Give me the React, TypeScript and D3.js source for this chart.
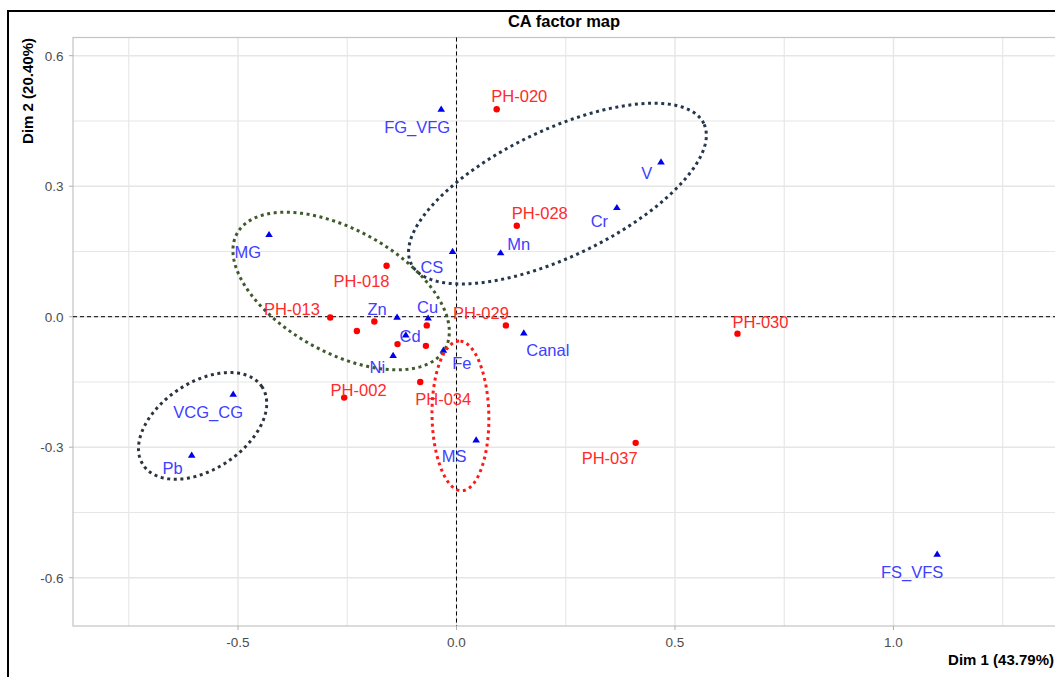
import React from "react";
import * as d3 from "d3";

// ---- Data ----
const rowNames: (string | null)[] = ["PH-020", "PH-028", "PH-018", "PH-013", null, null, null, null, null, "PH-029", "PH-034", "PH-002", "PH-030", "PH-037"];
const rowDim1 = [0.092, 0.138, -0.160, -0.289, -0.188, -0.228, -0.068, -0.135, -0.070, 0.113, -0.083, -0.257, 0.643, 0.410];
const rowDim2 = [0.477, 0.209, 0.117, -0.002, -0.011, -0.033, -0.020, -0.063, -0.067, -0.020, -0.150, -0.186, -0.039, -0.290];

const colNames = ["FG_VFG", "V", "Cr", "Mn", "CS", "MG", "Zn", "Cu", "Cd", "Ni", "Fe", "Canal", "MS", "VCG_CG", "Pb", "FS_VFS"];
const colDim1 = [-0.035, 0.468, 0.367, 0.101, -0.009, -0.429, -0.136, -0.065, -0.116, -0.145, -0.030, 0.154, 0.045, -0.511, -0.606, 1.100];
const colDim2 = [0.477, 0.356, 0.251, 0.147, 0.150, 0.189, -0.001, -0.003, -0.042, -0.089, -0.077, -0.037, -0.283, -0.178, -0.318, -0.546];

// ellipses (data units)
const ellipseCx = [0.231, -0.264, 0.009, -0.581];
const ellipseCy = [0.283, 0.059, -0.228, -0.251];
const ellipseA = [0.3716, 0.2725, 0.172, 0.163];
const ellipseB = [0.1454, 0.141, 0.065, 0.100];
const ellipseAngle = [25.7, -29.2, 91, 33.5];
const ellipseColor = ["#25374d", "#3f5a2b", "#ff1a1a", "#2b333d"];

const xMajor = [-0.5, 0, 0.5, 1.0];
const xMinor = [-0.75, -0.25, 0.25, 0.75, 1.25];
const yMajor = [-0.6, -0.3, 0, 0.3, 0.6];
const yMinor = [-0.45, -0.15, 0.15, 0.45];
const xTickLabels = ["-0.5", "0.0", "0.5", "1.0"];
const yTickLabels = ["-0.6", "-0.3", "0.0", "0.3", "0.6"];

// label offsets in pixels (layout, like ggrepel placement)
const rowLabelDx = [22.6, 23, -25, -38.3, 0, 0, 0, 0, 0, -25, 23, 14.4, 23, -26];
const rowLabelDy = [-13, -12.7, 15.7, -8.7, 0, 0, 0, 0, 0, -12.6, 16.7, -7.7, -12, 15.6];
const colLabelDx = [-24, -14.3, -17.5, 18, -20.7, -21.2, -20, -0.5, 4.3, -15.8, 18.4, 24, -22, -25, -19.2, -25];
const colLabelDy = [17.4, 11.6, 13.4, -8.7, 15.4, 17.4, -8.3, -11.3, 1, 11.4, 13.3, 17, 16, 17.7, 13.3, 17.7];

const W = 1055, H = 677;
const PL = 73, PR = 1055, PT = 37.5, PB = 626;
const FONT = "'Liberation Sans', Arial, sans-serif";

export default function App() {
  const x = d3.scaleLinear().domain([-0.8776, 1.3696]).range([PL, PR]);
  const y = d3.scaleLinear().domain([-0.711, 0.6418]).range([PB, PT]);

  const ellipsePath = (i: number) => {
    const th = (ellipseAngle[i] * Math.PI) / 180;
    const pts: [number, number][] = d3.range(0, 241).map((k) => {
      const t = (k / 240) * 2 * Math.PI;
      const ex = ellipseCx[i] + ellipseA[i] * Math.cos(t) * Math.cos(th) - ellipseB[i] * Math.sin(t) * Math.sin(th);
      const ey = ellipseCy[i] + ellipseA[i] * Math.cos(t) * Math.sin(th) + ellipseB[i] * Math.sin(t) * Math.cos(th);
      return [x(ex), y(ey)];
    });
    return d3.line()(pts) + "Z";
  };

  const tri = (px: number, py: number) =>
    `M${px},${py - 3.6}L${px + 3.8},${py + 2.6}L${px - 3.8},${py + 2.6}Z`;

  return (
    <svg width={W} height={H} style={{ position: "absolute", left: 0, top: 0, background: "#fff" }}>
      <rect x={0} y={0} width={W} height={H} fill="#fff" />
      {/* outer frame */}
      <rect x={8} y={11} width={1200} height={800} fill="none" stroke="#000" strokeWidth={2} />
      {/* title */}
      <text x={(PL + PR) / 2} y={26.5} textAnchor="middle" fontFamily={FONT} fontWeight="bold" fontSize={16.5} fill="#000">
        CA factor map
      </text>
      {/* grid */}
      <g stroke="#e6e6e6">
        {xMinor.map((v) => <line key={"xm" + v} x1={x(v)} x2={x(v)} y1={PT} y2={PB} strokeWidth={1.1} />)}
        {yMinor.map((v) => <line key={"ym" + v} y1={y(v)} y2={y(v)} x1={PL} x2={PR} strokeWidth={1.1} />)}
        {xMajor.map((v) => <line key={"xM" + v} x1={x(v)} x2={x(v)} y1={PT} y2={PB} strokeWidth={1.4} />)}
        {yMajor.map((v) => <line key={"yM" + v} y1={y(v)} y2={y(v)} x1={PL} x2={PR} strokeWidth={1.4} />)}
      </g>
      <rect x={PL} y={PT} width={PR - PL + 5} height={PB - PT} fill="none" stroke="#c4c4c4" strokeWidth={1.2} />
      {/* zero lines */}
      <line x1={x(0)} x2={x(0)} y1={PT} y2={PB} stroke="#000" strokeWidth={1} strokeDasharray="4 3" />
      <line x1={PL} x2={PR} y1={y(0)} y2={y(0)} stroke="#000" strokeWidth={1} strokeDasharray="4 3" />
      {/* axes ticks */}
      <g stroke="#b0b0b0" strokeWidth={1}>
        {xMajor.map((v) => <line key={"xt" + v} x1={x(v)} x2={x(v)} y1={PB} y2={PB + 4} />)}
        {yMajor.map((v) => <line key={"yt" + v} x1={PL - 4} x2={PL} y1={y(v)} y2={y(v)} />)}
      </g>
      <g fontFamily={FONT} fontSize={13.5} fill="#4d4d4d">
        {xMajor.map((v, i) => (
          <text key={"xl" + v} x={x(v)} y={646.5} textAnchor="middle">{xTickLabels[i]}</text>
        ))}
        {yMajor.map((v, i) => (
          <text key={"yl" + v} x={63.5} y={y(v) + 5} textAnchor="end">{yTickLabels[i]}</text>
        ))}
      </g>
      {/* axis titles */}
      <text x={1054} y={664.5} textAnchor="end" fontFamily={FONT} fontWeight="bold" fontSize={15} fill="#000">
        Dim 1 (43.79%)
      </text>
      <text transform="translate(32.5,38) rotate(-90)" textAnchor="end" fontFamily={FONT} fontWeight="bold" fontSize={15} fill="#000">
        Dim 2 (20.40%)
      </text>
      {/* row points */}
      {rowDim1.map((v, i) => (
        <circle key={"r" + i} cx={x(v)} cy={y(rowDim2[i])} r={3.2} fill="#ff0000" />
      ))}
      {/* column points */}
      {colDim1.map((v, i) => (
        <path key={"c" + i} d={tri(x(v), y(colDim2[i]))} fill="#0000ee" />
      ))}
      {/* labels */}
      <g fontFamily={FONT} fontSize={16.5}>
        {rowNames.map((n, i) =>
          n ? (
            <text key={"rl" + i} x={x(rowDim1[i]) + rowLabelDx[i]} y={y(rowDim2[i]) + rowLabelDy[i]} dy="0.36em" textAnchor="middle" fill="#ff2a2a">
              {n}
            </text>
          ) : null
        )}
        {colNames.map((n, i) => (
          <text key={"cl" + i} x={x(colDim1[i]) + colLabelDx[i]} y={y(colDim2[i]) + colLabelDy[i]} dy="0.36em" textAnchor="middle" fill="#4040ff">
            {n}
          </text>
        ))}
      </g>
      {/* ellipses */}
      {ellipseCx.map((_, i) => (
        <path key={"e" + i} d={ellipsePath(i)} fill="none" stroke={ellipseColor[i]} strokeWidth={3} strokeDasharray="3 3.6" />
      ))}
    </svg>
  );
}
